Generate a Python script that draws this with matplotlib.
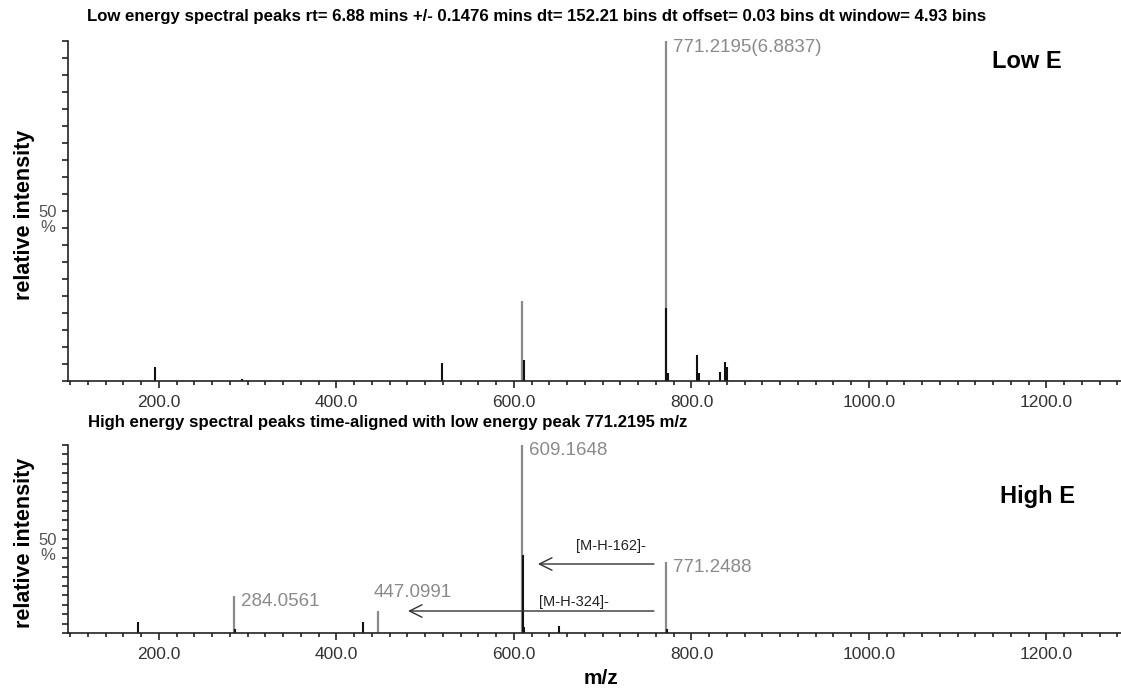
import matplotlib
matplotlib.use("Agg")
import matplotlib.pyplot as plt
from matplotlib.ticker import MultipleLocator, FixedLocator

plt.rcParams['font.family'] = ['Liberation Sans', 'DejaVu Sans']

# ---- Low energy spectrum (relative intensity, %) ----
low_label_mz = [771.2195]
low_label_int = [100.0]
low_label_txt = ["771.2195(6.8837)"]
low_grey_mz = [608.7]
low_grey_int = [23.6]
low_black_mz = [195.5, 293.0, 518.5, 611.0, 771.8, 773.5, 806.5, 808.5, 832.5, 838.0, 840.0]
low_black_int = [4.1, 0.5, 5.3, 6.1, 21.5, 2.4, 7.7, 2.4, 2.6, 5.6, 4.0]

# ---- High energy spectrum (relative intensity, %) ----
high_label_mz = [284.0561, 447.0991, 609.1648, 771.2488]
high_label_int = [19.6, 11.9, 100.0, 38.0]
high_label_txt = ["284.0561", "447.0991", "609.1648", "771.2488"]
high_black_mz = [176.7, 286.0, 430.0, 609.8, 611.5, 650.7, 773.0]
high_black_int = [5.6, 2.0, 5.6, 41.5, 3.0, 3.5, 2.0]

# neutral losses from the precursor
loss_labels = ["[M-H-162]-", "[M-H-324]-"]

xticks = [200.0, 400.0, 600.0, 800.0, 1000.0, 1200.0]
xtick_labels = ["200.0", "400.0", "600.0", "800.0", "1000.0", "1200.0"]

low_title = ("Low energy spectral peaks rt= 6.88 mins +/- 0.1476 mins dt= 152.21 bins "
             "dt offset= 0.03 bins dt window= 4.93 bins")
high_title = "High energy spectral peaks time-aligned with low energy peak 771.2195 m/z"

GREY = "#8a8a8a"
W, H = 1121, 690
fig = plt.figure(figsize=(W / 100, H / 100), dpi=100)


def px_axes(left, top, right, bottom):
    return fig.add_axes([left / W, 1 - bottom / H, (right - left) / W, (bottom - top) / H])


ax1 = px_axes(68, 41, 1121, 381)
ax2 = px_axes(68, 445, 1121, 633)


def style(ax):
    ax.set_xlim(97.5, 1284)
    ax.set_ylim(0, 100)
    for s in ("top", "right"):
        ax.spines[s].set_visible(False)
    for s in ("left", "bottom"):
        ax.spines[s].set_linewidth(1.2)
        ax.spines[s].set_color("#222222")
    ax.xaxis.set_major_locator(FixedLocator(xticks))
    ax.set_xticklabels(xtick_labels)
    ax.xaxis.set_minor_locator(MultipleLocator(20))
    ax.yaxis.set_major_locator(FixedLocator([50]))
    ax.set_yticklabels(["50"])
    ax.yaxis.set_minor_locator(MultipleLocator(5))
    ax.tick_params(axis="x", which="major", length=5, width=1.2, pad=5,
                   labelsize=12.5, labelcolor="#333333", color="#222222")
    ax.tick_params(axis="x", which="minor", length=3, width=1.2, color="#222222")
    ax.tick_params(axis="y", which="both", length=4, width=1.2, pad=4,
                   labelsize=12, labelcolor="#555555", color="#222222")
    ax.patch.set_alpha(0)


style(ax1)
style(ax2)

LABEL_FS = 13.5

# low energy peaks
ax1.vlines(low_grey_mz, 0, low_grey_int, color=GREY, lw=1.6)
ax1.vlines(low_label_mz, 0, low_label_int, color=GREY, lw=1.6)
ax1.vlines(low_black_mz, 0, low_black_int, color="#111111", lw=1.5)
for mz, it, t in zip(low_label_mz, low_label_int, low_label_txt):
    ax1.annotate(t, (mz, it), xytext=(5, -5), textcoords="offset points",
                 ha="left", va="center", fontsize=LABEL_FS, color=GREY)

# high energy peaks
ax2.vlines(high_label_mz, 0, high_label_int, color=GREY, lw=1.6)
ax2.vlines(high_black_mz, 0, high_black_int, color="#111111", lw=1.5)
label_offsets = {"447.0991": (-3, 13), "284.0561": (5, -4), "609.1648": (5, -4), "771.2488": (5, -4)}
for mz, it, t in zip(high_label_mz, high_label_int, high_label_txt):
    ax2.annotate(t, (mz, it), xytext=label_offsets[t], textcoords="offset points",
                 ha="left", va="center", fontsize=LABEL_FS, color=GREY)

# neutral loss arrows from the precursor ion
arrow_kw = dict(arrowstyle="->,head_length=0.9,head_width=0.45", color="#333333", lw=1.0,
                shrinkA=0, shrinkB=0, mutation_scale=10)
ax2.annotate("", xy=(627, 36.7), xytext=(757.7, 36.7), arrowprops=arrow_kw)
ax2.annotate("", xy=(480.6, 11.7), xytext=(757.7, 11.7), arrowprops=arrow_kw)
ax2.text(709, 46.5, loss_labels[0], ha="center", va="center", fontsize=10.5, color="#222222")
ax2.text(668, 16.5, loss_labels[1], ha="center", va="center", fontsize=10.5, color="#222222")

# titles and panel tags
fig.text(87 / W, 1 - 17 / H, low_title, ha="left", va="center", fontsize=12.1, fontweight="bold")
fig.text(88 / W, 1 - 423 / H, high_title, ha="left", va="center", fontsize=12.1, fontweight="bold")
fig.text(992 / W, 1 - 62 / H, "Low E", ha="left", va="center", fontsize=17, fontweight="bold")
fig.text(1000 / W, 1 - 496 / H, "High E", ha="left", va="center", fontsize=17, fontweight="bold")

for yc, yp in ((215, 228), (543, 556)):
    fig.text(25 / W, 1 - yc / H, "relative intensity", rotation=90, ha="center", va="center",
             fontsize=15.5, fontweight="bold")
    fig.text(48 / W, 1 - yp / H, "%", ha="center", va="center", fontsize=12, color="#555555")

fig.text(601 / W, 1 - 678 / H, "m/z", ha="center", va="center", fontsize=15, fontweight="bold")

fig.savefig("out.png", dpi=100, facecolor="white")
